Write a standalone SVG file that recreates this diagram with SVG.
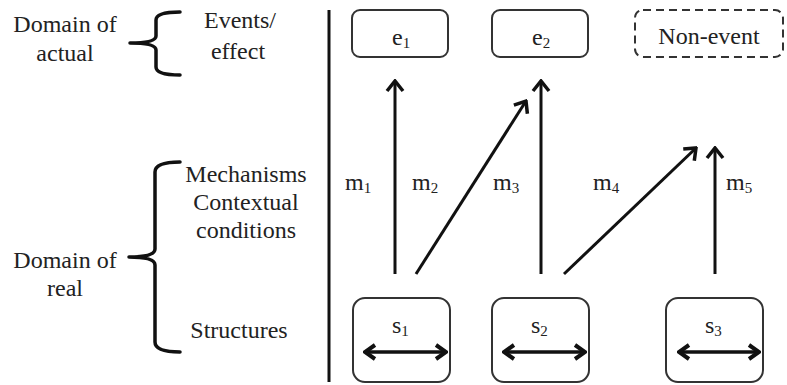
<svg xmlns="http://www.w3.org/2000/svg" width="787" height="385" viewBox="0 0 787 385">
<style>
text{font-family:'Liberation Serif','Times New Roman',serif;fill:#222;font-size:24px}
.sub{font-size:15px}
.box{fill:#fff;stroke:#333;stroke-width:2}
.dash{stroke-dasharray:8 5}
.brace{fill:none;stroke:#111;stroke-width:3.5;stroke-linecap:round;stroke-linejoin:round}
.arr{fill:none;stroke:#111;stroke-width:3;marker-end:url(#ah)}
.dbl{fill:none;stroke:#111;stroke-width:3.5;marker-end:url(#ah2);marker-start:url(#ah2)}
</style>
<defs>
<marker id="ah" markerUnits="userSpaceOnUse" viewBox="-14 -12 16 24" markerWidth="16" markerHeight="24" refX="0" refY="0" orient="auto">
<path d="M-10,-8 L0,0 L-10,8" fill="none" stroke="#111" stroke-width="3.5"/>
</marker>
<marker id="ah2" markerUnits="userSpaceOnUse" viewBox="-14 -12 16 24" markerWidth="16" markerHeight="24" refX="0" refY="0" orient="auto-start-reverse">
<path d="M-10,-7 L0,0 L-10,7" fill="none" stroke="#111" stroke-width="4"/>
</marker>
</defs>

<g id="labels-left">
<text x="65" y="32" text-anchor="middle">Domain of</text>
<text x="65" y="61" text-anchor="middle">actual</text>
<path class="brace" d="M180,12 Q156,12 156,20 L156,36 Q156,43 130,43 Q156,43 156,50 L156,67 Q156,75 180,75"/>
<text x="240" y="28" text-anchor="middle">Events/</text>
<text x="238" y="59" text-anchor="middle">effect</text>

<text x="65" y="268" text-anchor="middle">Domain of</text>
<text x="65" y="296" text-anchor="middle">real</text>
<path class="brace" d="M180,162 Q155,162 155,172 L155,249 Q155,257 129,257 Q155,257 155,265 L155,342 Q155,352 180,352"/>
<text x="246" y="182" text-anchor="middle">Mechanisms</text>
<text x="246" y="210" text-anchor="middle">Contextual</text>
<text x="246" y="238" text-anchor="middle">conditions</text>
<text x="239" y="338" text-anchor="middle">Structures</text>
</g>

<g id="divider"><line x1="329" y1="10" x2="329" y2="382" stroke="#111" stroke-width="3"/></g>

<g id="e1"><rect class="box" x="352" y="10" width="96" height="47" rx="8"/>
<text x="392" y="45">e<tspan class="sub" dy="3">1</tspan></text></g>
<g id="e2"><rect class="box" x="492" y="10" width="96" height="47" rx="8"/>
<text x="532" y="45">e<tspan class="sub" dy="3">2</tspan></text></g>
<g id="nonevent"><rect class="box dash" x="635" y="10" width="148" height="47" rx="8"/>
<text x="709" y="44" text-anchor="middle">Non-event</text></g>

<g id="s1"><rect class="box" x="353" y="298" width="97" height="84" rx="12"/>
<text x="392" y="333">s<tspan class="sub" dy="3">1</tspan></text></g>
<g id="s2"><rect class="box" x="492" y="298" width="97" height="84" rx="12"/>
<text x="531" y="333">s<tspan class="sub" dy="3">2</tspan></text></g>
<g id="s3"><rect class="box" x="666" y="298" width="97" height="84" rx="12"/>
<text x="705" y="333">s<tspan class="sub" dy="3">3</tspan></text></g>

<g id="connectors">
<line class="arr" x1="395" y1="274" x2="395" y2="81"/>
<line class="arr" x1="416" y1="274" x2="526" y2="101"/>
<line class="arr" x1="541" y1="274" x2="541" y2="81"/>
<line class="arr" x1="564" y1="274" x2="696" y2="148"/>
<line class="arr" x1="715" y1="274" x2="715" y2="148"/>
<line class="dbl" x1="365" y1="352" x2="446" y2="352"/>
<line class="dbl" x1="504" y1="352" x2="585" y2="352"/>
<line class="dbl" x1="679" y1="352" x2="759" y2="352"/>
</g>

<g id="mlabels">
<text x="345" y="190">m<tspan class="sub" dy="3">1</tspan></text>
<text x="412" y="190">m<tspan class="sub" dy="3">2</tspan></text>
<text x="493" y="190">m<tspan class="sub" dy="3">3</tspan></text>
<text x="593" y="190">m<tspan class="sub" dy="3">4</tspan></text>
<text x="726" y="190">m<tspan class="sub" dy="3">5</tspan></text>
</g>
</svg>
